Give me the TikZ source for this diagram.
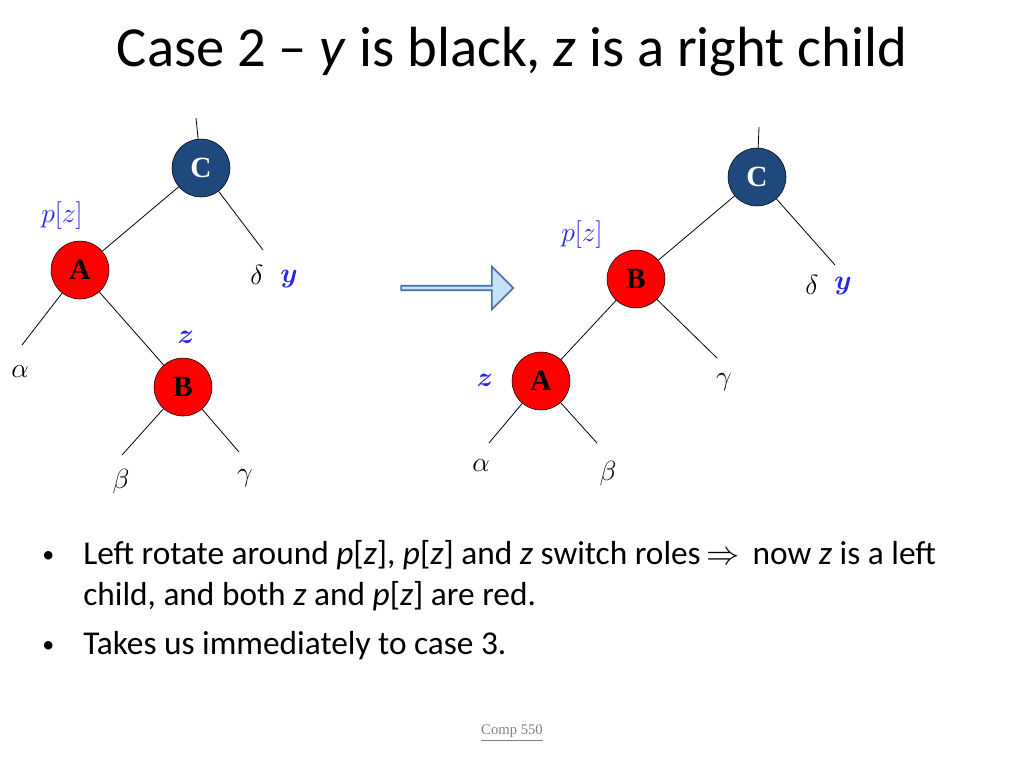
\documentclass[tikz,border=0pt]{standalone}
\usepackage{amsmath}
\usepackage{bm}
\usepackage{fontspec}
\setmainfont{Carlito}
\newfontfamily\tms{Liberation Serif}
\usetikzlibrary{shapes.arrows}
\definecolor{nblue}{RGB}{31,73,125}
\definecolor{lblue}{RGB}{38,38,230}
\definecolor{afill}{RGB}{198,226,248}
\definecolor{aedge}{RGB}{70,110,170}
\begin{document}
\begin{tikzpicture}[x=0.75pt,y=-0.75pt,
  blk/.style={circle,draw=black,fill=nblue,minimum size=43.5pt,inner sep=0pt,text=white,font=\tms\fontsize{22}{22}\selectfont\bfseries},
  rd/.style={circle,draw=black,fill=red,minimum size=43.5pt,inner sep=0pt,text=black,font=\tms\fontsize{22}{22}\selectfont\bfseries},
  gk/.style={font=\fontsize{22}{22}\selectfont,inner sep=0pt},
  lab/.style={text=lblue,font=\fontsize{20}{20}\selectfont,inner sep=0pt},
  blab/.style={text=lblue,font=\fontsize{20}{20}\selectfont,inner sep=0pt},
  ln/.style={draw=black,line width=0.6pt}]
\useasboundingbox (0,0) rectangle (1024,768);
\node[font=\fontsize{42.5}{42.5}\selectfont] (title) at (512,52) {Case 2 -- \textit{y} is black, \textit{z} is a right child};
% left tree
\coordinate (lt) at (196,118);
\node[blk] (C1) at (201,168) {C};
\node[rd] (A1) at (80,270) {A};
\node[rd] (B1) at (183,387) {B};
\coordinate (d1e) at (263,250);
\coordinate (a1e) at (22,345);
\coordinate (b1e) at (122,455);
\coordinate (g1e) at (239,452);
\draw[ln] (lt) -- (C1);
\draw[ln] (C1) -- (A1);
\draw[ln] (C1) -- (d1e);
\draw[ln] (A1) -- (a1e);
\draw[ln] (A1) -- (B1);
\draw[ln] (B1) -- (b1e);
\draw[ln] (B1) -- (g1e);
\node[gk] (d1) at (257,275) {$\delta$};
\node[blab] (y1) at (289,279) {$\bm{y}$};
\node[gk] (al1) at (20,372) {$\alpha$};
\node[gk] (be1) at (121,482) {$\beta$};
\node[gk] (ga1) at (245,478) {$\gamma$};
\node[blab] (z1) at (186,337) {$\bm{z}$};
\node[lab] (p1) at (62,216) {$p[z]$};
% arrow
\node[single arrow,draw=aedge,fill=afill,minimum height=84pt,minimum width=32pt,single arrow head extend=5pt,inner sep=0pt,line width=1.2pt] (arr) at (456,288) {};
% right tree
\coordinate (rt) at (759,127);
\node[blk] (C2) at (757,177) {C};
\node[rd] (B2) at (636,279) {B};
\node[rd] (A2) at (541,381) {A};
\coordinate (d2e) at (835,265);
\coordinate (g2e) at (717,358);
\coordinate (a2e) at (489,443);
\coordinate (b2e) at (597,443);
\draw[ln] (rt) -- (C2);
\draw[ln] (C2) -- (B2);
\draw[ln] (C2) -- (d2e);
\draw[ln] (B2) -- (A2);
\draw[ln] (B2) -- (g2e);
\draw[ln] (A2) -- (a2e);
\draw[ln] (A2) -- (b2e);
\node[gk] (d2) at (812,285) {$\delta$};
\node[blab] (y2) at (843,286) {$\bm{y}$};
\node[gk] (ga2) at (724,382) {$\gamma$};
\node[gk] (al2) at (481,466) {$\alpha$};
\node[gk] (be2) at (608,474) {$\beta$};
\node[blab] (z2) at (485,380) {$\bm{z}$};
\node[lab] (p2) at (582,235) {$p[z]$};
% bullets
\begin{scope}[every node/.style={anchor=base west,inner sep=0pt,font=\fontsize{25}{25}\selectfont}]
\node[font=\fontsize{18}{18}\selectfont] (bul1) at (42,562) {•};
\node (t1) at (83,564) {Left rotate around \textit{p}[\textit{z}], \textit{p}[\textit{z}] and \textit{z} switch roles\,$\Rightarrow$\, now \textit{z} is a left};
\node (t2) at (83,605) {child, and both \textit{z} and \textit{p}[\textit{z}] are red.};
\node[font=\fontsize{18}{18}\selectfont] (bul2) at (42,652) {•};
\node (t3) at (83,654) {Takes us immediately to case 3.};
\end{scope}
\node[text=gray,font=\tms\fontsize{11}{11}\selectfont] (foot) at (512,733) {\underline{Comp 550}};
\end{tikzpicture}
\end{document}
